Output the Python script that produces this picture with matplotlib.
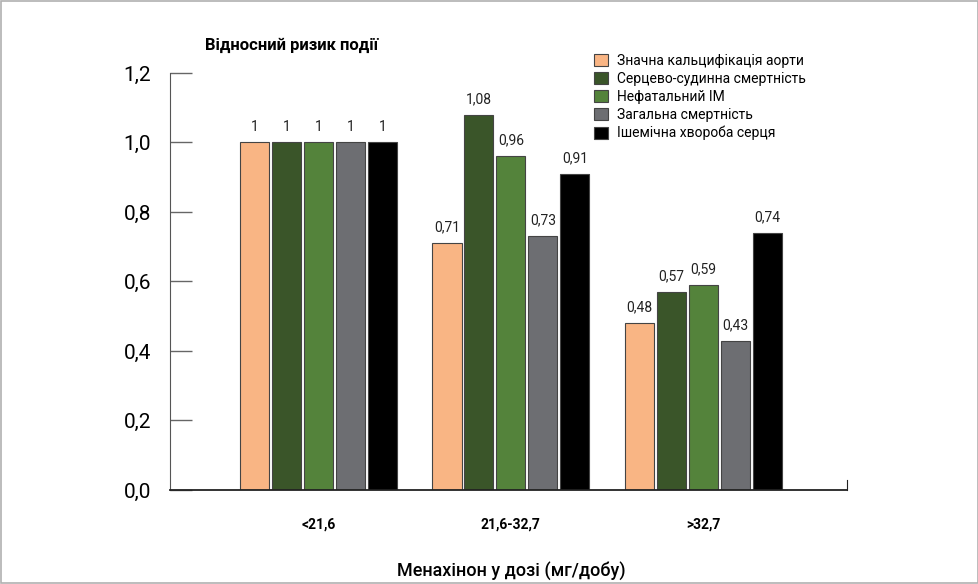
import numpy as np
import matplotlib.pyplot as plt
from matplotlib.patches import Rectangle

plt.rcParams['font.family'] = ['Roboto', 'DejaVu Sans']

# дані
groups = ['<21,6', '21,6-32,7', '>32,7']
series = ['Значна кальцифікація аорти', 'Серцево-судинна смертність',
          'Нефатальний ІМ', 'Загальна смертність', 'Ішемічна хвороба серця']
values = [
    [1, 0.71, 0.48],
    [1, 1.08, 0.57],
    [1, 0.96, 0.59],
    [1, 0.73, 0.43],
    [1, 0.91, 0.74],
]
colors = ['#F9B584', '#3A5529', '#54833B', '#6D6E72', '#000000']

fig = plt.figure(figsize=(9.79, 5.84), dpi=100)
ax = fig.add_axes([0.174, 0.161, 0.691, 0.714])

x = np.arange(len(groups))
step = 0.166
width = 0.151
for i, (name, vals) in enumerate(zip(series, values)):
    pos = x + (i - 2) * step
    bars = ax.bar(pos, vals, width, color=colors[i], edgecolor='#444444',
                  linewidth=0.8, label=name)
    for b, v in zip(bars, vals):
        txt = str(v).replace('.', ',') if v != 1 else '1'
        ax.text(b.get_x() + b.get_width() / 2, v + 0.025, txt,
                ha='center', va='bottom', fontsize=10, color='#222222')

ax.set_xlim(-0.769, 2.745)
ax.set_ylim(0, 1.2)
ax.set_yticks(np.arange(0, 1.21, 0.2))
ax.set_yticklabels([f'{t:.1f}'.replace('.', ',') for t in np.arange(0, 1.21, 0.2)],
                   fontsize=15)
ax.tick_params(axis='y', direction='in', length=16, width=1, color='#666666', pad=14)
ax.set_xticks(x)
ax.set_xticklabels(groups, fontsize=10, fontweight='bold')
ax.tick_params(axis='x', length=0, pad=20)

ax.spines['top'].set_visible(False)
ax.spines['left'].set_color('#555555')
ax.spines['bottom'].set_color('#222222')
ax.spines['bottom'].set_linewidth(1.3)
ax.spines['right'].set_bounds(0, 0.03)
ax.spines['right'].set_color('#222222')

fig.text(0.209, 0.922, 'Відносний ризик події', fontsize=12, fontweight='bold',
         ha='left', va='center')
fig.text(0.522, 0.022, 'Менахінон у дозі (мг/добу)', fontsize=13, fontweight='medium',
         ha='center', va='center')

ax.legend(loc='upper left', bbox_to_anchor=(0.6, 0.919), bbox_transform=fig.transFigure,
          frameon=False, fontsize=10, handlelength=1.0, handleheight=0.95,
          handletextpad=0.6, labelspacing=0.28, borderpad=0)

fig.patches.append(Rectangle((0.001, 0.001), 0.998, 0.997, transform=fig.transFigure,
                             fill=False, edgecolor='#B0B0B0', linewidth=1.2))

fig.savefig('out.png', dpi=100)
